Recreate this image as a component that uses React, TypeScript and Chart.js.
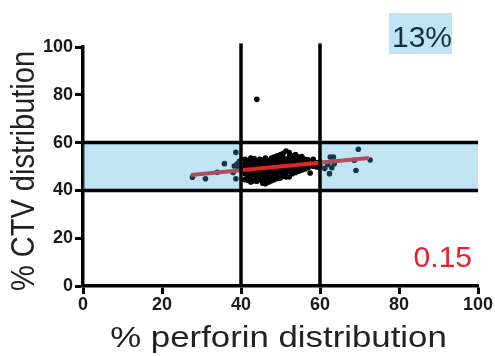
import React, { useEffect, useRef } from "react";
import { Chart, registerables } from "chart.js";

Chart.register(...registerables);

// Axis tick values
const xTicks = [0, 20, 40, 60, 80, 100];
const yTicks = [0, 20, 40, 60, 80, 100];

// Gate boundaries (% perforin / % CTV)
const gateLow = 40;
const gateHigh = 60;
const gateLineTop = 101.5;

// Cells outside the 40-60 perforin gate
const outerCells: [number, number][] = [
  [27.7, 45.5], [31, 44.9], [34, 47.6], [35.8, 51.2], [38, 47.5], [38.3, 50.2],
  [38.7, 55.9], [38.7, 44.9], [39, 51], [39.4, 49.5], [39.6, 52.2],
  [61.2, 49.2], [62, 50.8], [62.4, 47], [62.6, 54], [63, 49.5], [63.4, 54],
  [63.6, 51.2], [68.7, 52.6], [69.1, 48.3], [69.7, 57.2], [72.7, 52.7],
];

// Cells inside the 40-60 perforin gate
const innerCells: [number, number][] = [
  [41, 44.5], [41, 47], [41, 49.5], [41, 51], [41, 53],
  [41.8, 44.2], [41.8, 46], [41.8, 48.5], [41.8, 50.5], [41.8, 52.5],
  [42.5, 43.5], [42.5, 45.5], [42.5, 47.5], [42.5, 49], [42.5, 51], [42.5, 53.5],
  [43.3, 44], [43.3, 46.5], [43.3, 48], [43.3, 50], [43.3, 52], [43.3, 53.3],
  [44, 43.8], [44, 45], [44, 47], [44, 49], [44, 51], [44, 52.5],
  [44.8, 44.5], [44.8, 46], [44.8, 48], [44.8, 50], [44.8, 51.5], [44.8, 53],
  [45.5, 43], [45.5, 45.5], [45.5, 47.5], [45.5, 49.5], [45.5, 51], [45.5, 52.7],
  [46.2, 42.8], [46.2, 44.5], [46.2, 46.5], [46.2, 48.5], [46.2, 50], [46.2, 52], [46.2, 53.5],
  [47, 43.5], [47, 45.5], [47, 47], [47, 49], [47, 51], [47, 52.5],
  [47.7, 44], [47.7, 46], [47.7, 48], [47.7, 50], [47.7, 51.5], [47.7, 53.5],
  [48.4, 44.5], [48.4, 46.5], [48.4, 48.5], [48.4, 50.5], [48.4, 52], [48.4, 54],
  [49.2, 45], [49.2, 47], [49.2, 49], [49.2, 51], [49.2, 52.5], [49.2, 54.5],
  [50, 45.2], [50, 47.5], [50, 49.5], [50, 51.5], [50, 53], [50, 55],
  [50.7, 46], [50.7, 48], [50.7, 50], [50.7, 52], [50.7, 53.5], [50.7, 55.5],
  [51.4, 45.6], [51.4, 47.5], [51.4, 49.5], [51.4, 51.5], [51.4, 53], [51.4, 56.5],
  [52.2, 45.6], [52.2, 48], [52.2, 50], [52.2, 52], [52.2, 54], [52.2, 55.8],
  [53, 47], [53, 49], [53, 51], [53, 52.5], [53, 54.5],
  [53.8, 47.5], [53.8, 49.5], [53.8, 51.5], [53.8, 53], [53.8, 55],
  [54.6, 48], [54.6, 50], [54.6, 52], [54.6, 54],
  [55.4, 48.5], [55.4, 50.5], [55.4, 52.5], [55.4, 54.2],
  [56.2, 49], [56.2, 51], [56.2, 53],
  [57, 49.5], [57, 51.5], [57, 52.8], [57.5, 47.3],
  [58.3, 50], [58.3, 52], [58.3, 53],
  [59.2, 49.8], [59.2, 51.5], [60, 50.5], [60, 52],
  [44, 78.1],
];

// Linear fit through all cells
const fitX = [27.3, 72.4];
const fitY = [46.4, 53.6];

const percentLabel = "13%";
const slopeLabel = "0.15";

const toXY = (pts: [number, number][]) => pts.map(([x, y]) => ({ x, y }));

// Translucent blue overlay over the 40-60 CTV band outside the perforin gate,
// plus the annotation texts and the stretched axis titles.
const overlayPlugin = {
  id: "gateOverlay",
  afterDatasetDraw(chart: any, args: any) {
    if (args.index !== 4) return;
    const { ctx, scales } = chart;
    const xs = scales.x;
    const ys = scales.y;
    const top = ys.getPixelForValue(gateHigh);
    const bottom = ys.getPixelForValue(gateLow);
    ctx.save();
    ctx.fillStyle = "rgba(60,170,222,0.32)";
    const spans = [
      [0, gateLow],
      [gateHigh, 100],
    ];
    for (const [a, b] of spans) {
      const l = xs.getPixelForValue(a);
      const r = xs.getPixelForValue(b);
      ctx.fillRect(l, top, r - l, bottom - top);
    }
    ctx.restore();
  },
  afterDraw(chart: any) {
    const { ctx, chartArea } = chart;
    ctx.save();
    // top-right percentage box
    ctx.fillStyle = "#bee4f5";
    ctx.fillRect(389, 13, 63, 41);
    ctx.fillStyle = "#16303f";
    ctx.font = '30px "Liberation Sans", Arial, sans-serif';
    ctx.textAlign = "left";
    ctx.textBaseline = "alphabetic";
    ctx.fillText(percentLabel, 392, 46.5);
    // red coefficient
    ctx.fillStyle = "#e8202a";
    ctx.textAlign = "right";
    ctx.fillText(slopeLabel, 472, 266.5);

    // axis titles
    ctx.fillStyle = "#222222";
    ctx.font = '30px "Liberation Sans", Arial, sans-serif';
    ctx.textAlign = "center";
    ctx.save();
    ctx.translate((chartArea.left + chartArea.right) / 2 - 2, 347);
    ctx.scale(1.16, 1);
    ctx.fillText("% perforin distribution", 0, 0);
    ctx.restore();

    ctx.save();
    ctx.font = '29px "Liberation Sans", Arial, sans-serif';
    ctx.translate(34, 171);
    ctx.rotate(-Math.PI / 2);
    ctx.scale(1, 1.12);
    ctx.fillText("% CTV distribution", 0, 0);
    ctx.restore();
    ctx.restore();
  },
};

export default function App() {
  const canvasRef = useRef<HTMLCanvasElement | null>(null);

  useEffect(() => {
    const canvas = canvasRef.current;
    if (!canvas) return;

    const gateLine = (pts: { x: number; y: number }[]) => ({
      type: "line" as const,
      data: pts,
      showLine: true,
      borderColor: "#000000",
      borderWidth: 3.5,
      pointRadius: 0,
      clip: false as any,
      order: 0,
    });

    const tickFont = { family: '"Liberation Sans", Arial, sans-serif', size: 18, weight: "bold" as const };

    const chart = new Chart(canvas, {
      type: "scatter",
      data: {
        datasets: [
          gateLine([{ x: gateLow, y: 0 }, { x: gateLow, y: gateLineTop }]),
          gateLine([{ x: gateHigh, y: 0 }, { x: gateHigh, y: gateLineTop }]),
          gateLine([{ x: 0, y: gateLow }, { x: 100, y: gateLow }]),
          gateLine([{ x: 0, y: gateHigh }, { x: 100, y: gateHigh }]),
          {
            type: "line",
            data: fitX.map((x, i) => ({ x, y: fitY[i] })),
            showLine: true,
            borderColor: "#e82028",
            borderWidth: 4,
            pointRadius: 0,
            order: 1,
          } as any,
          {
            type: "scatter",
            data: [...toXY(outerCells), ...toXY(innerCells)],
            backgroundColor: "#000000",
            borderWidth: 0,
            pointRadius: 2.8,
            order: 2,
          },
        ],
      },
      options: {
        responsive: false,
        animation: false,
        devicePixelRatio: 1,
        layout: { padding: { left: 0, right: 17, top: 47, bottom: 0 } },
        plugins: {
          legend: { display: false },
          tooltip: { enabled: false },
        },
        scales: {
          x: {
            type: "linear",
            min: 0,
            max: 100,
            afterBuildTicks: (s: any) => {
              s.ticks = xTicks.map((v) => ({ value: v }));
            },
            afterFit: (s: any) => {
              s.height = 70;
            },
            ticks: { font: tickFont, color: "#1a1a1a", padding: 0, maxRotation: 0 },
            grid: {
              drawOnChartArea: false,
              drawTicks: true,
              tickLength: 8,
              tickWidth: 3,
              tickColor: "#000000",
            },
            border: { display: true, color: "#000000", width: 3.5 },
          },
          y: {
            type: "linear",
            min: 0,
            max: 100,
            afterBuildTicks: (s: any) => {
              s.ticks = yTicks.map((v) => ({ value: v }));
            },
            afterFit: (s: any) => {
              s.width = 83;
            },
            ticks: { font: tickFont, color: "#1a1a1a", padding: 2 },
            grid: {
              drawOnChartArea: false,
              drawTicks: true,
              tickLength: 8,
              tickWidth: 3,
              tickColor: "#000000",
            },
            border: { display: true, color: "#000000", width: 3.5 },
          },
        },
      },
      plugins: [overlayPlugin],
    });

    return () => chart.destroy();
  }, []);

  return (
    <div style={{ position: "absolute", left: 0, top: 0, width: 495, height: 356, background: "#ffffff" }}>
      <canvas ref={canvasRef} width={495} height={356} />
    </div>
  );
}
